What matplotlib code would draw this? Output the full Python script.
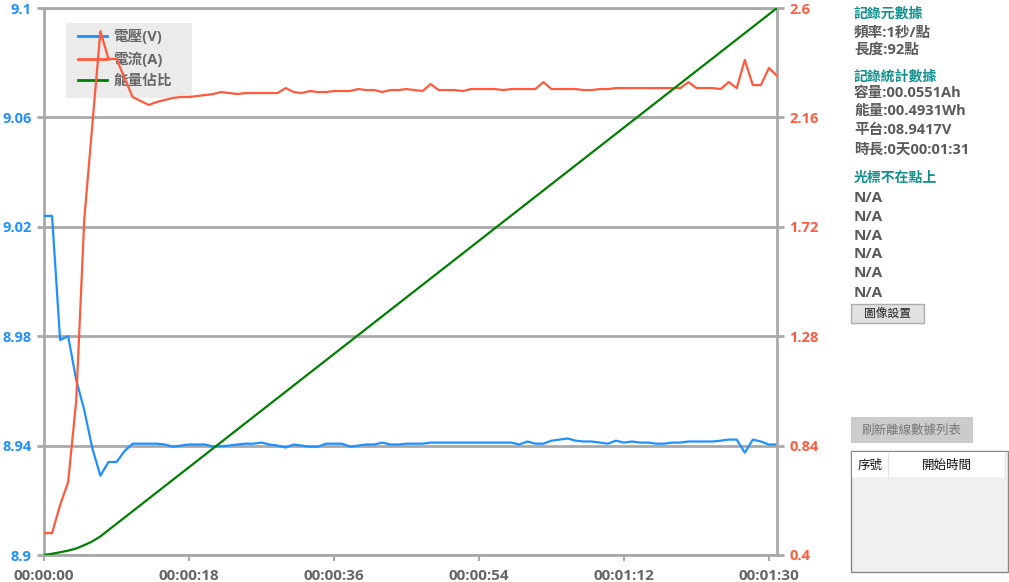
"""
電壓/電流記錄曲線 - 重繪
"""

import matplotlib.pyplot as plt
from matplotlib.patches import Rectangle
from matplotlib.lines import Line2D

plt.rcParams['font.family'] = ['Open Sans', 'Noto Sans CJK TC', 'DejaVu Sans']
plt.rcParams['axes.unicode_minus'] = False

# ---- 數據 ----
seconds = list(range(92))

voltage = [
    9.0240, 9.0240, 8.9786, 8.9800, 8.9640, 8.9530, 8.9390, 8.9290, 8.9340, 8.9340,
    8.9380, 8.9407, 8.9407, 8.9407, 8.9407, 8.9404, 8.9396, 8.9400, 8.9404, 8.9404,
    8.9404, 8.9396, 8.9398, 8.9400, 8.9404, 8.9407, 8.9407, 8.9411, 8.9404, 8.9400,
    8.9393, 8.9404, 8.9400, 8.9396, 8.9396, 8.9407, 8.9407, 8.9407, 8.9396, 8.9400,
    8.9404, 8.9404, 8.9411, 8.9404, 8.9404, 8.9407, 8.9407, 8.9407, 8.9411, 8.9411,
    8.9411, 8.9411, 8.9411, 8.9411, 8.9411, 8.9411, 8.9411, 8.9411, 8.9411, 8.9404,
    8.9415, 8.9407, 8.9407, 8.9418, 8.9422, 8.9426, 8.9418, 8.9415, 8.9415, 8.9411,
    8.9407, 8.9418, 8.9411, 8.9415, 8.9411, 8.9411, 8.9407, 8.9407, 8.9411, 8.9411,
    8.9415, 8.9415, 8.9415, 8.9415, 8.9418, 8.9422, 8.9422, 8.9374, 8.9422, 8.9415,
    8.9404, 8.9404,
]

current = [
    0.488, 0.488, 0.601, 0.694, 1.020, 1.750, 2.130, 2.507, 2.395, 2.395,
    2.318, 2.242, 2.226, 2.210, 2.222, 2.230, 2.238, 2.242, 2.242, 2.246,
    2.250, 2.254, 2.262, 2.258, 2.254, 2.258, 2.258, 2.258, 2.258, 2.258,
    2.278, 2.262, 2.258, 2.266, 2.262, 2.262, 2.266, 2.266, 2.266, 2.274,
    2.270, 2.270, 2.262, 2.270, 2.270, 2.274, 2.270, 2.266, 2.294, 2.270,
    2.270, 2.270, 2.266, 2.274, 2.274, 2.274, 2.274, 2.270, 2.274, 2.274,
    2.274, 2.274, 2.302, 2.274, 2.274, 2.274, 2.274, 2.270, 2.270, 2.274,
    2.274, 2.278, 2.278, 2.278, 2.278, 2.278, 2.278, 2.278, 2.278, 2.278,
    2.302, 2.278, 2.278, 2.278, 2.274, 2.302, 2.278, 2.391, 2.290, 2.290,
    2.359, 2.327,
]

# 能量佔比 (%)
energy_pct = [
    0.00, 0.23, 0.50, 0.80, 1.20, 1.80, 2.50, 3.40, 4.55, 5.70,
    6.85, 8.00, 9.15, 10.30, 11.45, 12.60, 13.75, 14.90, 16.05, 17.20,
    18.35, 19.50, 20.65, 21.80, 22.95, 24.10, 25.25, 26.40, 27.55, 28.70,
    29.85, 31.00, 32.15, 33.30, 34.45, 35.60, 36.75, 37.90, 39.05, 40.20,
    41.35, 42.50, 43.65, 44.80, 45.95, 47.10, 48.25, 49.40, 50.55, 51.70,
    52.85, 54.00, 55.15, 56.30, 57.45, 58.60, 59.75, 60.90, 62.05, 63.20,
    64.35, 65.50, 66.65, 67.80, 68.95, 70.10, 71.25, 72.40, 73.55, 74.70,
    75.85, 77.00, 78.15, 79.30, 80.45, 81.60, 82.75, 83.90, 85.05, 86.20,
    87.35, 88.50, 89.65, 90.80, 91.95, 93.10, 94.25, 95.40, 96.55, 97.70,
    98.85, 100.00,
]

v_ticks = [8.9, 8.94, 8.98, 9.02, 9.06, 9.1]
v_labels = ['8.9', '8.94', '8.98', '9.02', '9.06', '9.1']
i_ticks = [0.4, 0.84, 1.28, 1.72, 2.16, 2.6]
i_labels = ['0.4', '0.84', '1.28', '1.72', '2.16', '2.6']
t_ticks = [0, 18, 36, 54, 72, 90]
t_labels = ['00:00:00', '00:00:18', '00:00:36', '00:00:54', '00:01:12', '00:01:30']

series_names = ['電壓(V)', '電流(A)', '能量佔比']

info_meta = ['頻率:1秒/點', '長度:92點']
info_stats = ['容量:00.0551Ah', '能量:00.4931Wh', '平台:08.9417V', '時長:0天00:01:31']
cursor_vals = ['N/A'] * 6

# ---- 樣式 ----
W, H = 1009, 582
BLUE = '#1E90FF'
RED = '#FF5A3C'
GREEN = '#008000'
GRID = '#A9A9A9'
TEAL = '#12918F'
TXT = '#5A5A5A'


def fx(x):
    return x / W


def fy(y):
    return 1 - y / H


fig = plt.figure(figsize=(W / 100, H / 100), dpi=100)
ax = fig.add_axes([fx(44), fy(555), (777 - 44) / W, (555 - 8) / H])
ax2 = ax.twinx()
ax3 = ax.twinx()

l1, = ax.plot(seconds, voltage, color=BLUE, lw=1.6, zorder=3)
l2, = ax2.plot(seconds, current, color=RED, lw=1.6, zorder=3)
l3, = ax3.plot(seconds, energy_pct, color=GREEN, lw=1.6, zorder=3)

ax.set_xlim(0, 91)
ax.set_ylim(8.9, 9.1)
ax2.set_ylim(0.4, 2.6)
ax3.set_ylim(0, 100)

ax.set_xticks(t_ticks)
ax.set_xticklabels(t_labels)
ax.set_yticks(v_ticks)
ax.set_yticklabels(v_labels)
ax2.set_yticks(i_ticks)
ax2.set_yticklabels(i_labels)
ax3.set_yticks([])
ax3.axis('off')

ax.grid(axis='y', color=GRID, lw=2)
ax.set_axisbelow(True)

for a in (ax, ax2):
    for s in a.spines.values():
        s.set_color(GRID)
        s.set_linewidth(2)
ax.spines['right'].set_visible(False)
ax2.spines['left'].set_visible(False)
ax2.spines['top'].set_visible(False)
ax2.spines['bottom'].set_visible(False)

ax.tick_params(axis='y', colors=GRID, length=5, width=2, pad=4,
               labelcolor=BLUE, labelsize=10.5)
ax.tick_params(axis='x', colors=GRID, length=4, width=1.5, pad=6,
               labelcolor='#666666', labelsize=11)
ax2.tick_params(axis='y', colors=GRID, length=5, width=2, pad=4,
                labelcolor=RED, labelsize=10.5)
for lab in ax.get_xticklabels() + ax.get_yticklabels() + ax2.get_yticklabels():
    lab.set_fontweight('bold')

# 圖例 (背景在 ax 上, 讓電流線覆蓋)
ax.add_patch(Rectangle((fx(66), fy(98)), (192 - 66) / W, (98 - 23) / H,
                       transform=fig.transFigure, facecolor='#EBEBEB',
                       edgecolor='none', zorder=1))
leg = ax.legend([l1, l2, l3], series_names, loc='upper left',
                bbox_to_anchor=(fx(76), fy(27)), bbox_transform=fig.transFigure,
                frameon=False, fontsize=10.5, handlelength=2.0, handletextpad=0.4,
                labelspacing=0.5, borderaxespad=0, borderpad=0.15)
for t in leg.get_texts():
    t.set_color('#666666')
    t.set_fontweight('bold')
for h in leg.legend_handles:
    h.set_linewidth(2)

# ---- 右側資訊 ----
x0 = fx(854)
fig.text(x0, fy(14), '記錄元數據', color=TEAL, fontsize=10, fontweight='bold', va='center')
for y, s in zip([33, 50], info_meta):
    fig.text(x0, fy(y), s, color=TXT, fontsize=10.5, fontweight='bold', va='center')
fig.text(x0, fy(77), '記錄統計數據', color=TEAL, fontsize=10, fontweight='bold', va='center')
for y, s in zip([93, 111, 130, 150], info_stats):
    fig.text(x0, fy(y), s, color=TXT, fontsize=10.5, fontweight='bold', va='center')
fig.text(x0, fy(178), '光標不在點上', color=TEAL, fontsize=10, fontweight='bold', va='center')
for y, s in zip([198, 217, 236, 254, 273, 293], cursor_vals):
    fig.text(x0, fy(y), s, color=TXT, fontsize=11, fontweight='bold', va='center')

# 按鈕: 圖像設置
fig.add_artist(Rectangle((fx(851), fy(323)), 73 / W, 19 / H, transform=fig.transFigure,
                         facecolor='#E1E1E1', edgecolor='#ADADAD', lw=1))
fig.text(fx(887.5), fy(313.5), '圖像設置', color='#222222', fontsize=8.5,
         ha='center', va='center')

# 按鈕: 刷新離線數據列表
fig.add_artist(Rectangle((fx(851), fy(443)), 122 / W, 26 / H, transform=fig.transFigure,
                         facecolor='#CCCCCC', edgecolor='none'))
fig.text(fx(912), fy(430), '刷新離線數據列表', color='#777777', fontsize=9,
         ha='center', va='center')

# 列表
fig.add_artist(Rectangle((fx(851), fy(572)), 157 / W, 121 / H, transform=fig.transFigure,
                         facecolor='#F0F0F0', edgecolor='#888888', lw=1))
fig.add_artist(Rectangle((fx(852), fy(477)), 155 / W, 25 / H, transform=fig.transFigure,
                         facecolor='white', edgecolor='none'))
fig.add_artist(Line2D([fx(888), fx(888)], [fy(452), fy(477)], transform=fig.transFigure,
                      color='#E5E5E5', lw=1))
fig.add_artist(Line2D([fx(1005), fx(1005)], [fy(452), fy(477)], transform=fig.transFigure,
                      color='#E5E5E5', lw=1))
fig.text(fx(870), fy(465), '序號', color='#111111', fontsize=9, ha='center', va='center')
fig.text(fx(947), fy(465), '開始時間', color='#111111', fontsize=9, ha='center', va='center')

plt.savefig('out.png', dpi=100)
plt.close()
